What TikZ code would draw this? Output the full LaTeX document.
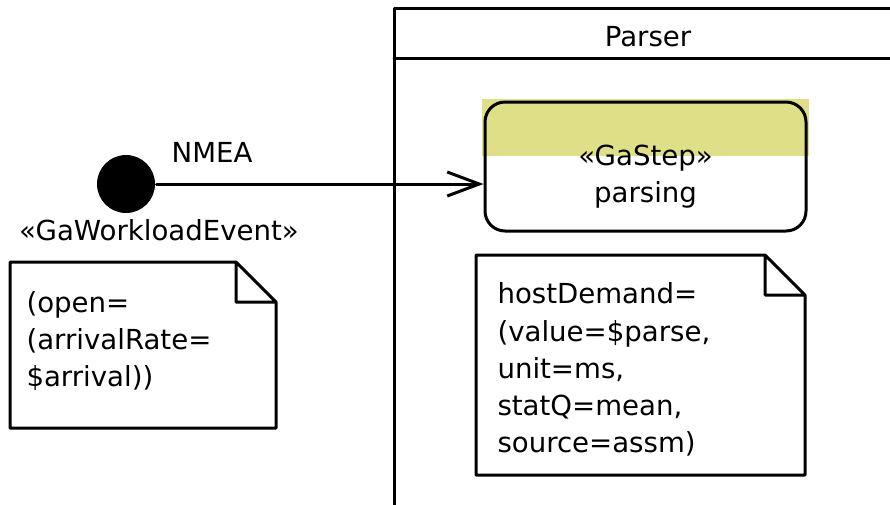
\documentclass[tikz,border=0pt]{standalone}
\usepackage{fontspec}
\setmainfont{DejaVu Sans}
\usetikzlibrary{arrows.meta,positioning,backgrounds}
\definecolor{stepyellow}{RGB}{223,223,135}
\begin{document}
\begin{tikzpicture}[x=1pt,y=-1pt,line cap=round,line join=round,line width=3pt,
 font=\fontsize{27.6}{37.2}\selectfont,>={Straight Barb[length=32pt,width=24pt]},
 action/.style={draw,rounded corners=20pt,minimum width=321pt,minimum height=129pt,inner sep=0pt},
 note/.style={minimum width=#1,inner sep=0pt,anchor=north west},
 txt/.style={inner sep=0pt,align=left}]
 \useasboundingbox (0,0) rectangle (890,504);
 % partition
 \draw (394,510)|-(900,8) (394,58)--(900,58);
 \node[anchor=base] (parser) at (648,46) {Parser};
 % event and step
 \node[circle,fill,inner sep=0pt,minimum size=58pt] (start) at (126,184) {};
 \node[anchor=base] (nmea) at (212,162) {NMEA};
 \node[anchor=base] (gwe) at (159,240) {«GaWorkloadEvent»};
 \node[action] (parsing) at (645.5,166.5) {};
 \begin{scope}[on background layer]
 \fill[stepyellow] ([shift={(-1.5pt,1.5pt)}]parsing.north west) rectangle ([xshift=1.5pt,yshift=-55pt]parsing.north east);
 \end{scope}
 \node[txt,align=center,anchor=north] (steptxt) at ([yshift=-43pt]parsing.north) {«GaStep»\\parsing};
 \draw[->] (start) -- (start -| parsing.west);
 % notes
 \node[note=263pt,minimum height=163pt] (arrnote) at (10,262) {};
 \node[note=326pt,minimum height=217pt] (dmdnote) at (476,255) {};
 \foreach \n in {arrnote,dmdnote}
 \draw (\n.north west)--([xshift=-40pt]\n.north east)--([yshift=-40pt]\n.north east)--(\n.south east)--(\n.south west)--cycle
 ([xshift=-40pt]\n.north east)|-([yshift=-40pt]\n.north east);
 \node[txt,below right=28pt and 15pt of arrnote.north west] (arrtxt) {(open=\\(arrivalRate=\\\$arrival))};
 \node[txt,below right=26.5pt and 20pt of dmdnote.north west] (dmdtxt) {hostDemand=\\(value=\$parse,\\unit=ms,\\statQ=mean,\\source=assm)};
\end{tikzpicture}
\end{document}
